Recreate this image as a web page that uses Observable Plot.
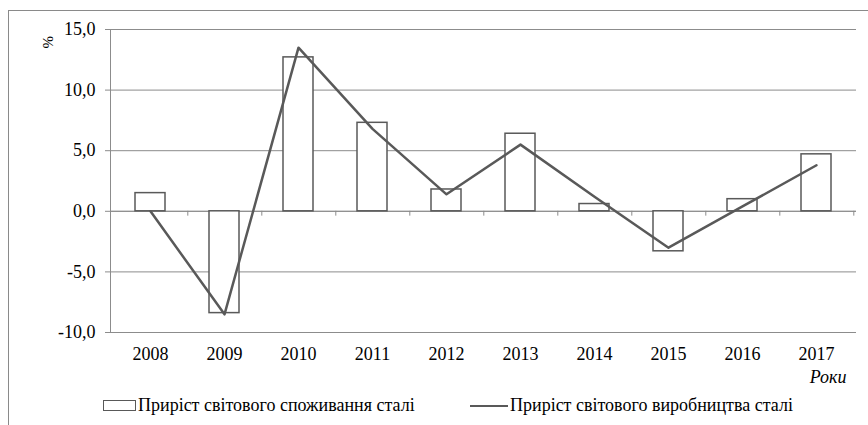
<!DOCTYPE html>
<html><head><meta charset="utf-8">
<script src="https://cdn.jsdelivr.net/npm/d3@7"></script>
<script src="https://cdn.jsdelivr.net/npm/@observablehq/plot@0.6"></script>
<style>
body{margin:0;background:#fff;}
#wrap{position:relative;width:868px;height:425px;overflow:hidden;}
</style></head>
<body>
<div id="wrap">
<div id="border" style="position:absolute;left:8px;top:10px;width:870px;height:420px;border-left:1.5px solid #8a8a8a;border-top:1.5px solid #8a8a8a;box-sizing:border-box;"></div>
<div id="chart" style="position:absolute;left:0;top:0;"></div>
<div id="leg1" style="position:absolute;left:103px;top:395px;white-space:nowrap;display:flex;align-items:center;"><span style="display:inline-block;width:31px;height:9px;border:1.3px solid #595959;background:#fff;margin-right:2px;"></span><span id="lt1" style="font-family:'Liberation Serif';font-size:18px;color:#000;"></span></div>
<div id="leg2" style="position:absolute;left:470px;top:395px;white-space:nowrap;display:flex;align-items:center;"><span style="display:inline-block;width:38px;height:0;border-top:2.5px solid #595959;margin-right:2px;"></span><span id="lt2" style="font-family:'Liberation Serif';font-size:18px;color:#000;"></span></div>
</div>
<script>
const years = [2008, 2009, 2010, 2011, 2012, 2013, 2014, 2015, 2016, 2017];
const consumption = [1.5, -8.4, 12.7, 7.3, 1.8, 6.4, 0.6, -3.3, 1.0, 4.7];
const production = [0, -8.5, 13.5, 6.8, 1.4, 5.5, 1.2, -3.0, 0.4, 3.8];
const yTicks = [-10, -5, 0, 5, 10, 15];
const seriesNames = ["Приріст світового споживання сталі", "Приріст світового виробництва сталі"];
const yLabel = "%";
const xLabel = "Роки";

const data = years.map((y, i) => ({year: y, cons: consumption[i], prod: production[i]}));
const W = 868, mL = 110, mR = 12;
const bw = (W - mL - mR) / years.length;
const serif = "Liberation Serif";

const chart = Plot.plot({
  width: W, height: 392,
  marginTop: 29, marginLeft: mL, marginRight: mR, marginBottom: 60,
  style: {fontFamily: serif, fontSize: "18px", color: "#000", background: "transparent"},
  x: {type: "band", domain: years, padding: 0},
  y: {domain: [-10, 15]},
  marks: [
    Plot.gridY(yTicks, {stroke: "#8c8c8c", strokeOpacity: 1, strokeWidth: 1}),
    Plot.axisY(yTicks, {tickFormat: d => d.toFixed(1).replace(".", ","), tickSize: 5, tickPadding: 10, label: null, stroke: "#8c8c8c", fill: "#000", fontFamily: serif, fontSize: 18}),
    Plot.frame({anchor: "left", stroke: "#8c8c8c", strokeOpacity: 1}),
    Plot.ruleY([0], {stroke: "#8c8c8c"}),
    Plot.ruleX(years, {x: d => d, y1: 0, y2: -0.4, dx: bw / 2, stroke: "#8c8c8c"}),
    Plot.barY(data, {x: "year", y: "cons", fill: "white", stroke: "#595959", strokeWidth: 1.5, insetLeft: 22, insetRight: 22}),
    Plot.lineY(data, {x: "year", y: "prod", stroke: "#595959", strokeWidth: 2.5}),
    Plot.axisX({tickSize: 0, tickPadding: 15, tickFormat: d => String(d), label: null, fill: "#000", fontFamily: serif, fontSize: 18}),
    Plot.text([yLabel], {frameAnchor: "top-left", rotate: -90, dx: -68, dy: 19, fontSize: 15, fontFamily: serif}),
    Plot.text([xLabel], {frameAnchor: "bottom-right", dx: -10, dy: 50, fontStyle: "italic", fontSize: 18, textAnchor: "end", fontFamily: serif})
  ]
});
document.getElementById("chart").append(chart);
document.getElementById("lt1").textContent = seriesNames[0];
document.getElementById("lt2").textContent = seriesNames[1];
</script>
</body></html>
